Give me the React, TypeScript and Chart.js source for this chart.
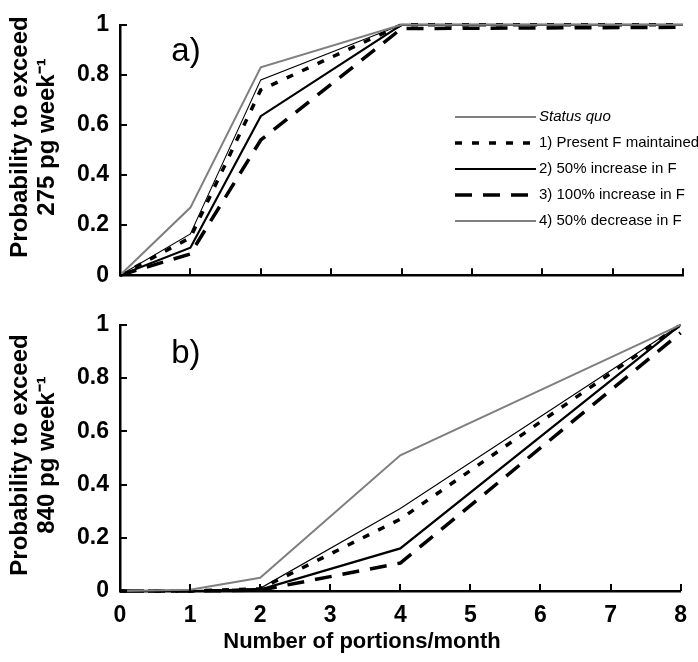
import { useEffect, useRef } from "react";
import { Chart, registerables } from "chart.js";
Chart.register(...registerables);

// ---------- data ----------
const portions = [0, 1, 2, 4, 8];
const seriesNames = [
  "Status quo",
  "1) Present F maintained",
  "2) 50% increase in F",
  "3) 100% increase in F",
  "4) 50% decrease in F",
];

// panel a) probability to exceed 275 pg week-1
const aStatusQuo = [0, 0.27, 0.83, 1, 1];
const aPresentF = [0, 0.15, 0.74, 1, 1];
const aIncrease50 = [0, 0.11, 0.635, 1, 1];
const aIncrease100 = [0, 0.085, 0.54, 0.985, 0.99];
const aDecrease50 = [0, 0.165, 0.78, 1, 1];

// panel b) probability to exceed 840 pg week-1
const bStatusQuo = [0, 0.005, 0.05, 0.51, 1];
const bPresentF = [0, 0, 0.008, 0.27, 1];
const bIncrease50 = [0, 0, 0.005, 0.16, 1];
const bIncrease100 = [0, 0, 0.003, 0.105, 0.97];
const bDecrease50 = [0, 0, 0.01, 0.31, 1];

const xTickStep = 1;
const yTickStep = 0.2;

// ---------- styles ----------
const FONT = '"Liberation Sans", Arial, Helvetica, sans-serif';
const seriesStyles = [
  { color: "#7f7f7f", width: 2, dash: [] as number[] },
  { color: "#000000", width: 3.5, dash: [7, 10] },
  { color: "#000000", width: 2.2, dash: [] as number[] },
  { color: "#000000", width: 3.5, dash: [17, 11] },
  { color: "#000000", width: 1.1, dash: [] as number[] },
];

const decorPlugin = {
  id: "decor",
  afterDraw(chart: any, _args: any, o: any) {
    const ctx = chart.ctx as CanvasRenderingContext2D;
    const xs = chart.scales.x;
    const ys = chart.scales.y;
    ctx.save();
    // inward tick marks
    ctx.strokeStyle = "#000";
    ctx.lineWidth = 2;
    xs.ticks.forEach((t: any) => {
      const px = Math.round(xs.getPixelForValue(t.value));
      ctx.beginPath();
      ctx.moveTo(px, ys.bottom);
      ctx.lineTo(px, ys.bottom - 7);
      ctx.stroke();
    });
    ys.ticks.forEach((t: any) => {
      const py = Math.round(ys.getPixelForValue(t.value));
      ctx.beginPath();
      ctx.moveTo(xs.left, py);
      ctx.lineTo(xs.left + 7, py);
      ctx.stroke();
    });
    // panel label
    ctx.fillStyle = "#000";
    ctx.font = `33px ${FONT}`;
    ctx.textAlign = "left";
    ctx.textBaseline = "alphabetic";
    ctx.fillText(o.panel, xs.getPixelForValue(o.panelX), ys.getPixelForValue(o.panelY));
    // y title (two rotated lines)
    ctx.font = `bold 24px ${FONT}`;
    ctx.textAlign = "center";
    ctx.textBaseline = "middle";
    o.yTitle.forEach((line: string, i: number) => {
      ctx.save();
      ctx.translate(o.yTitleX[i], o.yTitleCenter);
      ctx.rotate(-Math.PI / 2);
      ctx.fillText(line, 0, 0);
      ctx.restore();
    });
    // x title
    if (o.xTitle) {
      ctx.font = `bold 22px ${FONT}`;
      ctx.textAlign = "center";
      ctx.textBaseline = "middle";
      ctx.fillText(o.xTitle, o.xTitleX, o.xTitleY);
    }
    // legend
    if (o.legend) {
      const L = o.legend;
      chart.data.datasets.forEach((ds: any, i: number) => {
        const yy = L.y0 + i * L.dy;
        ctx.beginPath();
        ctx.strokeStyle = ds.borderColor;
        ctx.lineWidth = ds.borderWidth;
        ctx.setLineDash(ds.borderDash || []);
        ctx.moveTo(L.x0, yy);
        ctx.lineTo(L.x1, yy);
        ctx.stroke();
        ctx.setLineDash([]);
        ctx.fillStyle = "#000";
        ctx.font = `${i === 0 ? "italic " : ""}15px ${FONT}`;
        ctx.textAlign = "left";
        ctx.textBaseline = "middle";
        ctx.fillText(ds.label, L.x1 + 3, yy);
      });
    }
    ctx.restore();
  },
};

function buildConfig(series: number[][], showXLabels: boolean, xAxisHeight: number, topPad: number, decor: any) {
  return {
    type: "line" as const,
    data: {
      labels: portions,
      datasets: series.map((vals, i) => ({
        label: seriesNames[i],
        data: portions.map((p, j) => ({ x: p, y: vals[j] })),
        borderColor: seriesStyles[i].color,
        borderWidth: seriesStyles[i].width,
        borderDash: seriesStyles[i].dash,
        borderCapStyle: "butt",
        pointRadius: 0,
        tension: 0,
        fill: false,
        clip: 12,
      })),
    },
    options: {
      responsive: false,
      animation: false,
      layout: { padding: { left: 0, right: 15, top: topPad, bottom: 0 } },
      plugins: { legend: { display: false }, tooltip: { enabled: false }, decor },
      scales: {
        x: {
          type: "linear",
          min: 0,
          max: 8,
          grid: { display: false, drawTicks: false },
          border: { display: true, color: "#000", width: 2.5 },
          ticks: {
            stepSize: xTickStep,
            display: showXLabels,
            color: "#000",
            padding: 11,
            font: { family: FONT, size: 23, weight: "bold" },
          },
          afterFit: (s: any) => {
            s.height = xAxisHeight;
          },
        },
        y: {
          min: 0,
          max: 1,
          grid: { display: false, drawTicks: false },
          border: { display: true, color: "#000", width: 2.5 },
          ticks: {
            stepSize: yTickStep,
            color: "#000",
            padding: 11,
            font: { family: FONT, size: 23, weight: "bold" },
            callback: (v: any) => String(Number(Number(v).toFixed(1))),
          },
          afterFit: (s: any) => {
            s.width = 120;
          },
        },
      },
    },
    plugins: [decorPlugin],
  };
}

function Panel({ series, height, showXLabels, xAxisHeight, topPad, decor, top }: any) {
  const ref = useRef<HTMLCanvasElement>(null);
  useEffect(() => {
    const chart = new Chart(ref.current as HTMLCanvasElement, buildConfig(series, showXLabels, xAxisHeight, topPad, decor) as any);
    return () => chart.destroy();
  }, []);
  return (
    <canvas
      ref={ref}
      width={698}
      height={height}
      style={{ position: "absolute", left: 0, top, width: 698, height }}
    />
  );
}

export default function App() {
  return (
    <div style={{ position: "absolute", left: 0, top: 0, width: 698, height: 662, background: "#fff" }}>
      <Panel
        top={0}
        height={300}
        series={[aStatusQuo, aPresentF, aIncrease50, aIncrease100, aDecrease50]}
        showXLabels={false}
        xAxisHeight={17}
        topPad={17}
        decor={{
          panel: "a)",
          panelX: 0.73,
          panelY: 0.855,
          yTitle: ["Probability to exceed", "275 pg week\u207B\u00B9"],
          yTitleX: [20, 47],
          yTitleCenter: 137,
          legend: { x0: 455, x1: 536, y0: 117, dy: 26 },
        }}
      />
      <Panel
        top={300}
        height={362}
        series={[bStatusQuo, bPresentF, bIncrease50, bIncrease100, bDecrease50]}
        showXLabels={true}
        xAxisHeight={71}
        topPad={24}
        decor={{
          panel: "b)",
          panelX: 0.73,
          panelY: 0.855,
          yTitle: ["Probability to exceed", "840 pg week\u207B\u00B9"],
          yTitleX: [20, 47],
          yTitleCenter: 155,
          xTitle: "Number of portions/month",
          xTitleX: 362,
          xTitleY: 342,
        }}
      />
    </div>
  );
}
